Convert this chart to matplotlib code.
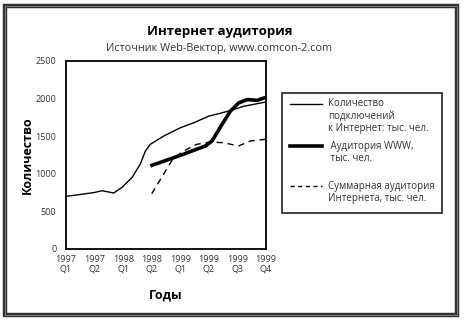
import matplotlib
matplotlib.use("Agg")
import matplotlib.pyplot as plt
from matplotlib.patches import Rectangle
from matplotlib.lines import Line2D

plt.rcParams['font.family'] = ['Open Sans', 'DejaVu Sans']

# квартальная шкала: 0 = 1997 Q1 ... 7 = 1999 Q4
quarters = ["1997\nQ1", "1997\nQ2", "1998\nQ1", "1998\nQ2",
            "1999\nQ1", "1999\nQ2", "1999\nQ3", "1999\nQ4"]

# количество подключений к Интернет, тыс. чел.
conn_x = [0, 0.5, 1.0, 1.26, 1.67, 1.96, 2.31, 2.6, 2.78, 2.95,
          3.42, 4.0, 4.47, 4.99, 5.4, 5.75, 6.22, 7.0]
conn_y = [700, 725, 752, 775, 745, 819, 951, 1128, 1304, 1392,
          1502, 1612, 1678, 1766, 1805, 1841, 1898, 1955]

# аудитория WWW, тыс. чел.
www_x = [2.95, 4.0, 4.88, 5.11, 5.46, 5.75, 6.04, 6.34, 6.69, 7.0]
www_y = [1105, 1245, 1370, 1436, 1656, 1832, 1942, 1987, 1977, 2017]

# суммарная аудитория Интернета, тыс. чел.
total_x = [3.0, 3.77, 4.23, 4.58, 5.05, 5.52, 6.04, 6.45, 7.0]
total_y = [735, 1216, 1326, 1392, 1423, 1413, 1370, 1436, 1460]

W, H = 465, 322
fig = plt.figure(figsize=(W / 100, H / 100), dpi=100)

def fx(px):
    return px / W

def fy(py):
    return 1 - py / H

# рамка вокруг всего рисунка
fig.patches.append(Rectangle((fx(5), fy(315)), fx(452), 309 / H,
                             transform=fig.transFigure, fill=False,
                             lw=3.2, ec='#333333'))
fig.patches.append(Rectangle((fx(5), fy(315)), fx(452), 309 / H,
                             transform=fig.transFigure, fill=False,
                             lw=0.6, ec='#8a8a8a'))

ax = fig.add_axes([fx(66), fy(249), fx(200), 188 / H])
ax.plot(conn_x, conn_y, color='black', lw=1.0)
ax.plot(www_x, www_y, color='black', lw=2.6, solid_capstyle='butt')
ax.plot(total_x, total_y, color='black', lw=1.0, dashes=(4.5, 3.5))

ax.set_xlim(0, 7)
ax.set_ylim(0, 2500)
ax.set_xticks(range(len(quarters)))
ax.set_xticklabels(quarters, fontsize=6.5, color='#333333', linespacing=1.2)
ax.set_yticks([0, 500, 1000, 1500, 2000, 2500])
ax.tick_params(axis='both', length=0, labelsize=6.5, colors='#333333')
ax.tick_params(axis='y', pad=7)
ax.tick_params(axis='x', pad=4)
for s in ax.spines.values():
    s.set_linewidth(1.3)

fig.text(fx(220), fy(31), "Интернет аудитория", ha='center', va='center',
         fontsize=9.5, fontweight='bold')
fig.text(fx(219), fy(48), "Источник Web-Вектор, www.comcon-2.com",
         ha='center', va='center', fontsize=7.8, color='#333333')
fig.text(fx(27), fy(155), "Количество", ha='center', va='center',
         rotation=90, fontsize=9, fontweight='bold')
fig.text(fx(166), fy(295), "Годы", ha='center', va='center',
         fontsize=9, fontweight='bold')

# легенда
fig.patches.append(Rectangle((fx(282), fy(213)), fx(160), 120 / H,
                             transform=fig.transFigure, fill=False,
                             lw=1.2, ec='#222222'))
entries = [
    (104, dict(lw=1.0), "Количество\nподключений\nк Интернет: тыс. чел."),
    (146, dict(lw=2.6), " Аудитория WWW,\n тыс. чел."),
    (186, dict(lw=1.0, dashes=(3, 2.5)), "Суммарная аудитория\nИнтернета, тыс. чел."),
]
for py, style, label in entries:
    fig.add_artist(Line2D([fx(290), fx(322)], [fy(py), fy(py)],
                          transform=fig.transFigure, color='black', **style))
    fig.text(fx(328), fy(py) + 5.5 / H, label, ha='left', va='top',
             fontsize=7, color='#333333', linespacing=1.15)

fig.savefig("out.png", dpi=100)
